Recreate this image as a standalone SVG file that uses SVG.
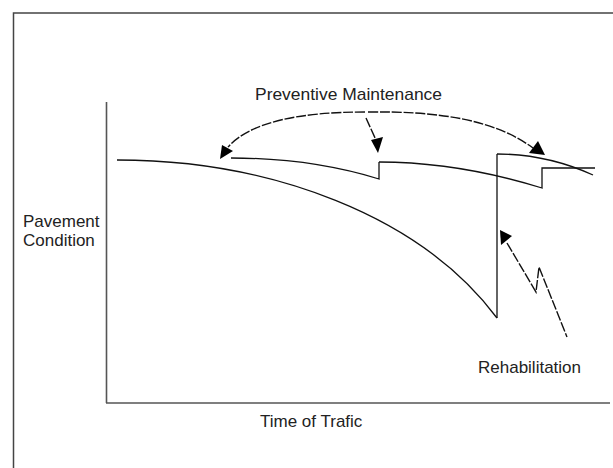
<svg xmlns="http://www.w3.org/2000/svg" width="613" height="468" viewBox="0 0 613 468">
<style>
.frame{fill:none;stroke:#444;stroke-width:1.5}
.axis{fill:none;stroke:#555;stroke-width:1.6}
.curve{fill:none;stroke:#111;stroke-width:1.3}
.arr{fill:none;stroke:#111;stroke-width:1.4;stroke-dasharray:10 1.8}
.head{fill:#000;stroke:none}
.lbl{font-family:"Liberation Sans",Arial,sans-serif;font-size:17px;fill:#222}
</style>
<rect width="613" height="468" fill="#fff"/>
<rect class="frame" x="13.5" y="13" width="640" height="500"/>
<g id="axes">
<line class="axis" x1="106.5" y1="102" x2="106.5" y2="403"/>
<line class="axis" x1="106" y1="403" x2="610" y2="403"/>
</g>
<g id="condition-curves">
<path class="curve" d="M117,160 C270,160 420,215 497,318"/>
<path class="curve" d="M497,318 L497,154"/>
<path class="curve" d="M497,154 C530,154 560,160 593,175"/>
<path class="curve" d="M231,158 C290,158 340,167 379,179 L379,162"/>
<path class="curve" d="M379,162 C440,162 500,175 542,188 L542,168 L595,168"/>
</g>
<g id="connectors">
<path class="arr" d="M365,112 C300,112 250,122 228,147"/>
<polygon class="head" points="220,159 222,145 233,151"/>
<path class="arr" d="M368,112 C440,111 495,120 533,148"/>
<polygon class="head" points="545,155 529,153 538,141"/>
<path class="arr" d="M366,118 L376,140"/>
<polygon class="head" points="378,153 371,140 383,137"/>
<path class="arr" d="M507,243 L536,292 L539,267 L567,337"/>
<polygon class="head" points="500,230 501,245 512,236"/>
</g>
<g id="labels">
<text class="lbl" x="255" y="100" textLength="187" lengthAdjust="spacingAndGlyphs">Preventive Maintenance</text>
<text class="lbl" x="23" y="227">Pavement</text>
<text class="lbl" x="23" y="246">Condition</text>
<text class="lbl" x="260" y="427">Time of Trafic</text>
<text class="lbl" x="478" y="373">Rehabilitation</text>
</g>
</svg>
